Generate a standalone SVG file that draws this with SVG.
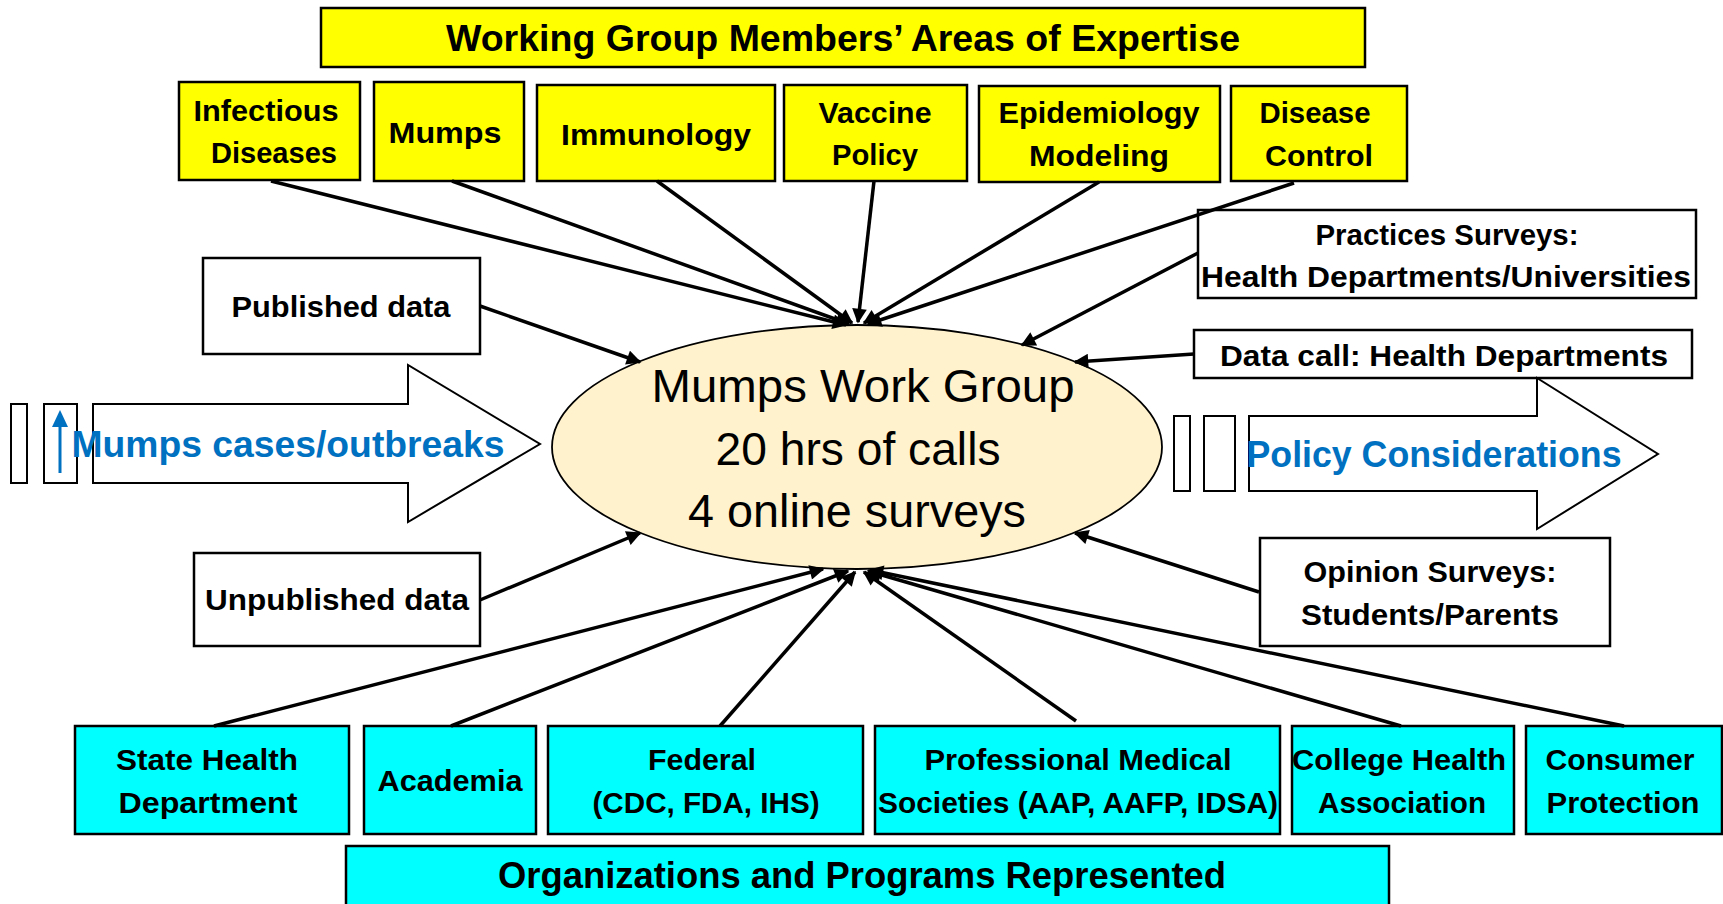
<svg xmlns="http://www.w3.org/2000/svg" width="1723" height="904" viewBox="0 0 1723 904">
<defs>
<marker id="ah" viewBox="0 0 10 10" refX="9" refY="5" markerWidth="5" markerHeight="4.2" orient="auto"><path d="M0,0 L10,5 L0,10 z" fill="#000"/></marker>
<style>
.y{fill:#FFFF00;stroke:#000;stroke-width:2.5}
.c{fill:#00FFFF;stroke:#000;stroke-width:2.5}
.w{fill:#FFFFFF;stroke:#000;stroke-width:2.5}
.ba{fill:#FFFFFF;stroke:#000;stroke-width:2}
.t{font-family:"Liberation Sans",Arial,sans-serif;font-weight:bold;font-size:29px;fill:#000;text-anchor:middle}
.big{font-size:37px}
.blue{fill:#0070C0;font-size:36px}
.e{font-family:"Liberation Sans",Arial,sans-serif;font-size:46px;fill:#000;text-anchor:middle}
.cn line{stroke:#000;stroke-width:3.5;marker-end:url(#ah)}
</style>
</defs>
<rect width="1723" height="904" fill="#FFFFFF"/>

<g id="title-expertise">
<rect class="y" x="321" y="8" width="1044" height="59"/>
<text class="t big" x="843" y="51" textLength="794" lengthAdjust="spacingAndGlyphs">Working Group Members’ Areas of  Expertise</text>
</g>
<g id="infectious">
<rect class="y" x="179" y="82" width="181" height="98"/>
<text class="t" x="266" y="121" textLength="145" lengthAdjust="spacingAndGlyphs">Infectious</text>
<text class="t" x="274" y="163" textLength="126" lengthAdjust="spacingAndGlyphs">Diseases</text>
</g>
<g id="mumps">
<rect class="y" x="374" y="82" width="150" height="99"/>
<text class="t" x="445" y="143" textLength="113" lengthAdjust="spacingAndGlyphs">Mumps</text>
</g>
<g id="immunology">
<rect class="y" x="537" y="85" width="238" height="96"/>
<text class="t" x="656" y="145" textLength="190" lengthAdjust="spacingAndGlyphs">Immunology</text>
</g>
<g id="vaccine">
<rect class="y" x="784" y="85" width="183" height="96"/>
<text class="t" x="875" y="123" textLength="113" lengthAdjust="spacingAndGlyphs">Vaccine</text>
<text class="t" x="875" y="165" textLength="86" lengthAdjust="spacingAndGlyphs">Policy</text>
</g>
<g id="epidemiology">
<rect class="y" x="979" y="86" width="241" height="96"/>
<text class="t" x="1099" y="123" textLength="201" lengthAdjust="spacingAndGlyphs">Epidemiology</text>
<text class="t" x="1099" y="166" textLength="140" lengthAdjust="spacingAndGlyphs">Modeling</text>
</g>
<g id="disease-control">
<rect class="y" x="1231" y="86" width="176" height="95"/>
<text class="t" x="1315" y="123" textLength="111" lengthAdjust="spacingAndGlyphs">Disease</text>
<text class="t" x="1319" y="166" textLength="108" lengthAdjust="spacingAndGlyphs">Control</text>
</g>

<g id="practices">
<rect class="w" x="1198" y="210" width="498" height="88"/>
<text class="t" x="1447" y="245" textLength="263" lengthAdjust="spacingAndGlyphs">Practices Surveys:</text>
<text class="t" x="1446" y="287" textLength="490" lengthAdjust="spacingAndGlyphs">Health Departments/Universities</text>
</g>
<g id="datacall">
<rect class="w" x="1194" y="330" width="498" height="48"/>
<text class="t" x="1444" y="366" textLength="448" lengthAdjust="spacingAndGlyphs">Data call: Health Departments</text>
</g>
<g id="published">
<rect class="w" x="203" y="258" width="277" height="96"/>
<text class="t" x="341" y="317" textLength="219" lengthAdjust="spacingAndGlyphs">Published data</text>
</g>
<g id="unpublished">
<rect class="w" x="194" y="553" width="286" height="93"/>
<text class="t" x="337" y="610" textLength="264" lengthAdjust="spacingAndGlyphs">Unpublished data</text>
</g>
<g id="opinion">
<rect class="w" x="1260" y="538" width="350" height="108"/>
<text class="t" x="1430" y="582" textLength="253" lengthAdjust="spacingAndGlyphs">Opinion Surveys:</text>
<text class="t" x="1430" y="625" textLength="258" lengthAdjust="spacingAndGlyphs">Students/Parents</text>
</g>

<g id="mumps-cases-arrow">
<rect class="ba" x="11" y="404" width="16" height="79"/>
<rect class="ba" x="44" y="404" width="33" height="79"/>
<line x1="60" y1="473" x2="60" y2="424" stroke="#0070C0" stroke-width="3"/>
<path d="M52,427 L68,427 L60,410 z" fill="#0070C0"/>
<path class="ba" d="M93,404 L408,404 L408,365 L540,444 L408,522 L408,483 L93,483 z"/>
<text class="t blue" x="288" y="457" textLength="433" lengthAdjust="spacingAndGlyphs">Mumps cases/outbreaks</text>
</g>

<g id="policy-arrow">
<rect class="ba" x="1174" y="416" width="16" height="75"/>
<rect class="ba" x="1204" y="416" width="31" height="75"/>
<path class="ba" d="M1249,416 L1537,416 L1537,378 L1658,454 L1537,529 L1537,491 L1249,491 z"/>
<text class="t blue" x="1434" y="467" textLength="375" lengthAdjust="spacingAndGlyphs">Policy Considerations</text>
</g>

<g id="work-group">
<ellipse cx="857" cy="447" rx="305" ry="122" fill="#FFF2CC" stroke="#000" stroke-width="1.8"/>
<text class="e" x="863" y="402" textLength="423" lengthAdjust="spacingAndGlyphs">Mumps Work Group</text>
<text class="e" x="858" y="465" textLength="285" lengthAdjust="spacingAndGlyphs">20 hrs of calls</text>
<text class="e" x="857" y="527" textLength="338" lengthAdjust="spacingAndGlyphs">4 online surveys</text>
</g>

<g id="state-health">
<rect class="c" x="75" y="726" width="274" height="108"/>
<text class="t" x="207" y="770" textLength="182" lengthAdjust="spacingAndGlyphs">State Health</text>
<text class="t" x="208" y="813" textLength="179" lengthAdjust="spacingAndGlyphs">Department</text>
</g>
<g id="academia">
<rect class="c" x="364" y="726" width="172" height="108"/>
<text class="t" x="450" y="791" textLength="145" lengthAdjust="spacingAndGlyphs">Academia</text>
</g>
<g id="federal">
<rect class="c" x="548" y="726" width="315" height="108"/>
<text class="t" x="702" y="770" textLength="108" lengthAdjust="spacingAndGlyphs">Federal</text>
<text class="t" x="706" y="813" textLength="227" lengthAdjust="spacingAndGlyphs">(CDC, FDA, IHS)</text>
</g>
<g id="professional">
<rect class="c" x="875" y="726" width="405" height="108"/>
<text class="t" x="1078" y="770" textLength="307" lengthAdjust="spacingAndGlyphs">Professional Medical</text>
<text class="t" x="1078" y="813" textLength="400" lengthAdjust="spacingAndGlyphs">Societies (AAP, AAFP, IDSA)</text>
</g>
<g id="college">
<rect class="c" x="1292" y="726" width="222" height="108"/>
<text class="t" x="1399" y="770" textLength="214" lengthAdjust="spacingAndGlyphs">College Health</text>
<text class="t" x="1402" y="813" textLength="168" lengthAdjust="spacingAndGlyphs">Association</text>
</g>
<g id="consumer">
<rect class="c" x="1526" y="726" width="196" height="108"/>
<text class="t" x="1620" y="770" textLength="149" lengthAdjust="spacingAndGlyphs">Consumer</text>
<text class="t" x="1623" y="813" textLength="153" lengthAdjust="spacingAndGlyphs">Protection</text>
</g>
<g id="title-organizations">
<rect class="c" x="346" y="846" width="1043" height="70"/>
<text class="t big" x="862" y="888" textLength="728" lengthAdjust="spacingAndGlyphs">Organizations and Programs Represented</text>
</g>

<g id="connectors" class="cn">
<line x1="271" y1="181" x2="846" y2="325"/>
<line x1="452" y1="181" x2="849" y2="324"/>
<line x1="657" y1="181" x2="852" y2="323"/>
<line x1="874" y1="181" x2="858" y2="322"/>
<line x1="1099" y1="182" x2="864" y2="323"/>
<line x1="1294" y1="183" x2="868" y2="324"/>
<line x1="1198" y1="253" x2="1022" y2="345"/>
<line x1="1194" y1="354" x2="1075" y2="362"/>
<line x1="480" y1="306" x2="640" y2="362"/>
<line x1="480" y1="600" x2="640" y2="533"/>
<line x1="1259" y1="592" x2="1075" y2="533"/>
<line x1="214" y1="726" x2="823" y2="569"/>
<line x1="451" y1="726" x2="848" y2="571"/>
<line x1="720" y1="726" x2="855" y2="572"/>
<line x1="1076" y1="721" x2="864" y2="572"/>
<line x1="1401" y1="726" x2="868" y2="571"/>
<line x1="1624" y1="726" x2="870" y2="570"/>
</g>
</svg>
